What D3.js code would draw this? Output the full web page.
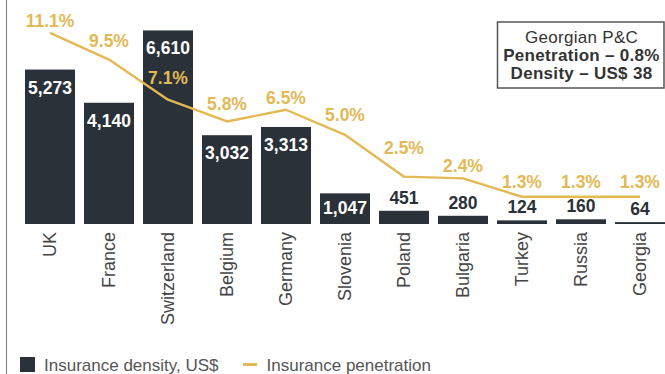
<!DOCTYPE html>
<html>
<head>
<meta charset="utf-8">
<script src="https://cdn.jsdelivr.net/npm/d3@7"></script>
<style>
  html, body { margin: 0; padding: 0; background: #fff; }
  svg { display: block; font-family: "Liberation Sans", Arial, Helvetica, sans-serif; }
</style>
</head>
<body>
<svg id="chart" width="665" height="374"></svg>
<script>
// Insurance market comparison by country
const countries = ["UK", "France", "Switzerland", "Belgium", "Germany", "Slovenia",
                   "Poland", "Bulgaria", "Turkey", "Russia", "Georgia"];
const density = [5273, 4140, 6610, 3032, 3313, 1047, 451, 280, 124, 160, 64];      // US$ per capita
const penetration = [11.1, 9.5, 7.1, 5.8, 6.5, 5.0, 2.5, 2.4, 1.3, 1.3, 1.3];       // % of GDP
const legendLabels = ["Insurance density, US$", "Insurance penetration"];
const noteLines = ["Georgian P&C", "Penetration \u2013 0.8%", "Density \u2013 US$ 38"];

// How far each percentage label sits above its point, keeping labels clear of the bars
const pctLift = [6, 13, 16, 11, 6, 14, 23, 6, 9, 9, 9];

const BAR = "#2b3139";
const GOLD = "#e2b955";
const TEXT = "#444";

const svg = d3.select("#chart");

const x = d3.scaleBand()
  .domain(countries)
  .range([20.5, 669.5])
  .paddingInner(0.1525)
  .paddingOuter(0.07625);

const yBar = d3.scaleLinear().domain([0, 7000]).range([224, 19]);
const yPct = d3.scaleLinear().domain([0, 12]).range([218.5, 17.74]);

// left frame rule
svg.append("line")
  .attr("x1", 6.5).attr("x2", 6.5).attr("y1", 0).attr("y2", 374)
  .attr("stroke", "#8a8a8a").attr("stroke-width", 1.2);

// bars
svg.append("g").selectAll("rect")
  .data(countries)
  .join("rect")
  .attr("x", d => x(d))
  .attr("width", x.bandwidth())
  .attr("y", (d, i) => yBar(density[i]))
  .attr("height", (d, i) => yBar(0) - yBar(density[i]))
  .attr("fill", BAR);

// bar value labels: inside tall bars, above short ones
const fmt = d3.format(",");
svg.append("g").selectAll("text")
  .data(countries)
  .join("text")
  .attr("x", d => x(d) + x.bandwidth() / 2)
  .attr("y", (d, i) => {
    const top = yBar(density[i]);
    const h = yBar(0) - top;
    return h > 25 ? top + Math.min(24, h - 10) : top - 7;
  })
  .attr("text-anchor", "middle")
  .attr("font-size", 17.5)
  .attr("font-weight", "bold")
  .attr("fill", (d, i) => (yBar(0) - yBar(density[i]) > 25 ? "#fff" : BAR))
  .text((d, i) => fmt(density[i]));

// penetration line
const line = d3.line()
  .x((d, i) => x(countries[i]) + x.bandwidth() / 2)
  .y(d => yPct(d));

svg.append("path")
  .datum(penetration)
  .attr("d", line)
  .attr("fill", "none")
  .attr("stroke", GOLD)
  .attr("stroke-width", 2.4)
  .attr("stroke-linejoin", "round");

svg.append("g").selectAll("text")
  .data(penetration)
  .join("text")
  .attr("x", (d, i) => x(countries[i]) + x.bandwidth() / 2)
  .attr("y", (d, i) => yPct(d) - pctLift[i])
  .attr("text-anchor", "middle")
  .attr("font-size", 17.5)
  .attr("font-weight", "bold")
  .attr("fill", GOLD)
  .text(d => d.toFixed(1) + "%");

// category axis labels, rotated
const xAxis = d3.axisBottom(x).tickSize(0).tickPadding(0);
const gx = svg.append("g")
  .attr("transform", `translate(0,${yBar(0)})`)
  .call(xAxis);
gx.select(".domain").remove();
gx.selectAll("text")
  .attr("font-family", null)
  .attr("font-size", 18)
  .attr("fill", TEXT)
  .attr("text-anchor", "end")
  .attr("transform", "translate(0,8) rotate(-90)")
  .attr("x", 0)
  .attr("y", 0)
  .attr("dy", "0.36em");

// note box
const box = svg.append("g");
box.append("rect")
  .attr("x", 497.5).attr("y", 22)
  .attr("width", 166.5).attr("height", 66)
  .attr("fill", "#fff")
  .attr("stroke", "#555").attr("stroke-width", 1.5);
box.selectAll("text")
  .data(noteLines)
  .join("text")
  .attr("x", 581.5)
  .attr("y", (d, i) => 42.7 + i * 18)
  .attr("text-anchor", "middle")
  .attr("font-size", 17)
  .attr("letter-spacing", "0.3")
  .attr("font-weight", (d, i) => (i === 0 ? "normal" : "bold"))
  .attr("fill", "#333")
  .text(d => d);

// legend
const lg = svg.append("g");
lg.append("rect")
  .attr("x", 20).attr("y", 357).attr("width", 15).attr("height", 15)
  .attr("fill", BAR);
lg.append("text")
  .attr("x", 44).attr("y", 370.5)
  .attr("font-size", 17).attr("fill", "#555")
  .text(legendLabels[0]);
lg.append("line")
  .attr("x1", 243).attr("x2", 257).attr("y1", 364.5).attr("y2", 364.5)
  .attr("stroke", GOLD).attr("stroke-width", 3);
lg.append("text")
  .attr("x", 266.5).attr("y", 370.5)
  .attr("font-size", 17).attr("fill", "#555")
  .text(legendLabels[1]);
</script>
</body>
</html>
